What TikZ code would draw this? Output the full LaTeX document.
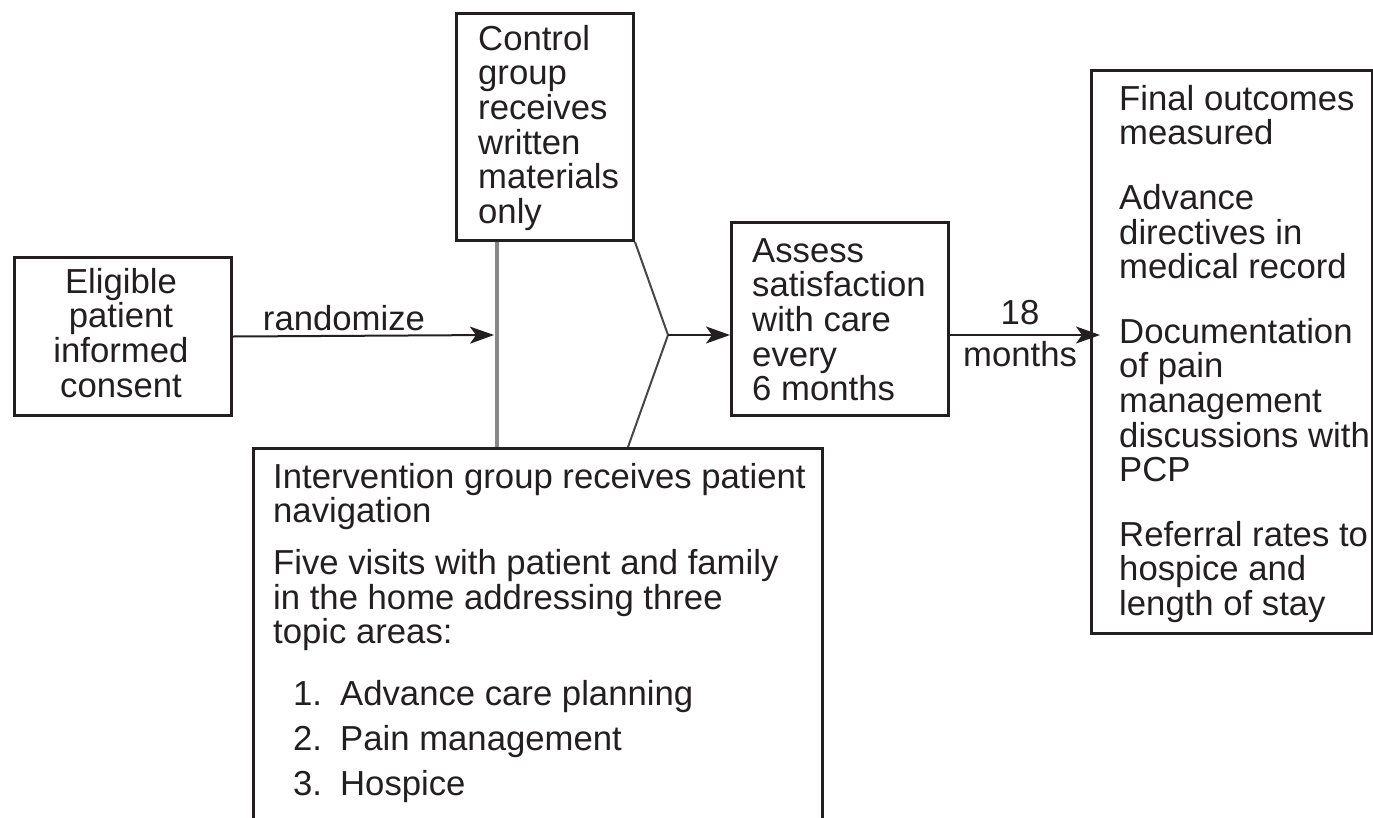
\documentclass[tikz,border=0pt]{standalone}
\usepackage{fontspec}
\setmainfont{Liberation Sans}
\usetikzlibrary{arrows.meta}
\definecolor{ink}{RGB}{35,31,32}
\definecolor{midgray}{RGB}{135,135,135}
\definecolor{diaggray}{RGB}{70,70,70}
\newcommand\mystrut{\rule{0pt}{30pt}}
\begin{document}
\begin{tikzpicture}[x=1pt,y=-1pt,
  box/.style={draw=ink, line width=3pt, inner sep=0pt, anchor=north west},
  txt/.style={inner sep=0pt, anchor=north west, align=left, text=ink,
    font=\fontsize{34.7}{34.6}\selectfont},
  arr/.style={draw=ink, line width=2pt, -{Stealth[length=24pt,width=17pt,inset=6pt]}},
  gline/.style={draw=midgray, line width=3.5pt},
  dline/.style={draw=diaggray, line width=2pt},
]
\path[use as bounding box] (0,0) rectangle (1373,817);
\clip (0,0) rectangle (1373,817);

% boxes
\node[box, minimum width=217pt, minimum height=158pt] (elig) at (13,256) {};
\node[box, minimum width=177pt, minimum height=227pt] (ctrl) at (455,12) {};
\node[box, minimum width=217pt, minimum height=193pt] (assess) at (730,221) {};
\node[box, minimum width=281pt, minimum height=563pt] (final) at (1090,69) {};
\node[box, minimum width=569pt, minimum height=420pt] (interv) at (252,447) {};

% texts
\node[txt, align=center, anchor=north] (eligtxt) at (121,263)
  {\mystrut Eligible\\patient\\informed\\consent};
\node[txt] (ctrltxt) at (478,20)
  {\mystrut Control\\group\\receives\\written\\materials\\only};
\node[txt] (assesstxt) at (752,232)
  {\mystrut Assess\\satisfaction\\with care\\every\\6 months};
\node[txt] (finaltxt) at (1119,80)
  {\mystrut Final outcomes\\measured\\[30pt]Advance\\directives in\\medical record\\[30pt]Documentation\\of pain\\management\\discussions with\\PCP\\[30pt]Referral rates to\\hospice and\\length of stay};
\node[txt] (intervtxt) at (273,458)
  {\mystrut Intervention group receives patient\\navigation\\[17pt]Five visits with patient and family\\in the home addressing three\\topic areas:\\[27pt]\hspace*{20pt}\makebox[47pt][l]{1.}Advance care planning\\[10.4pt]\hspace*{20pt}\makebox[47pt][l]{2.}Pain management\\[10.4pt]\hspace*{20pt}\makebox[47pt][l]{3.}Hospice};

% connectors
\coordinate (join) at (497,335);
\coordinate (apex) at (668,335);
\coordinate (dbot) at (628,447);
\coordinate (fin) at (1100,335);

\draw[gline] (ctrl.south -| join) -- (interv.north -| join);
\draw[dline] (ctrl.south east) -- (apex) -- (dbot);
\draw[arr] (elig.east) -- ([xshift=-3pt]join);
\draw[arr] (apex) -- (apex -| assess.west);
\draw[arr] (assess.east |- apex) -- (fin);

% labels
\node[txt, anchor=base] (rand) at (344,330) {randomize};
\node[txt, align=center, anchor=north] (months) at (1020,294) {\mystrut 18\\[8pt]months};
\end{tikzpicture}
\end{document}
